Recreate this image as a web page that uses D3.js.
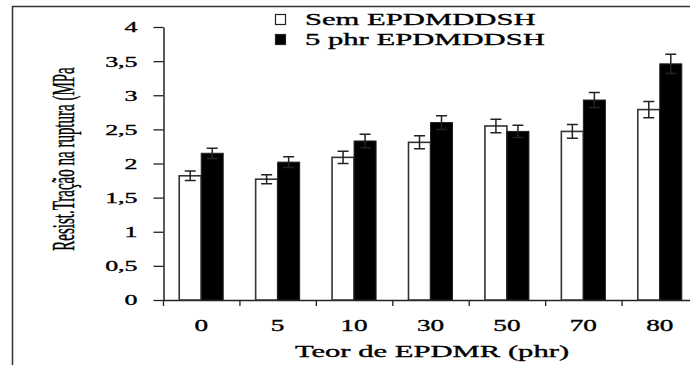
<!DOCTYPE html>
<html>
<head>
<meta charset="utf-8">
<script src="https://cdn.jsdelivr.net/npm/d3@7"></script>
<style>
  body { margin: 0; background: #fff; }
  text { font-family: "Liberation Serif", "Times New Roman", serif; fill: #000; stroke: #000; stroke-width: 0.35px; }
</style>
</head>
<body>
<svg id="chart"></svg>
<script>
var width = 690,
    height = 365;

// data
var categories = ["0", "5", "10", "30", "50", "70", "80"];
var semValues = [1.82, 1.77, 2.09, 2.31, 2.55, 2.47, 2.79];
var semErrors = [0.07, 0.065, 0.09, 0.095, 0.1, 0.1, 0.12];
var comValues = [2.15, 2.02, 2.33, 2.60, 2.47, 2.93, 3.46];
var comErrors = [0.075, 0.08, 0.1, 0.1, 0.09, 0.11, 0.14];
var seriesNames = ["Sem EPDMDDSH", "5 phr EPDMDDSH"];
var yTicks = [0, 0.5, 1, 1.5, 2, 2.5, 3, 3.5, 4];

var svg = d3.select("#chart").attr("width", width).attr("height", height);

// outer frame (only top and left visible)
svg.append("path")
  .attr("d", "M12.5,365 L12.5,6.5 L690,6.5")
  .attr("fill", "none")
  .attr("stroke", "#333")
  .attr("stroke-width", 1.5);

var x = d3.scaleBand().domain(categories).range([163, 698]);
var y = d3.scaleLinear().domain([0, 4]).range([300, 27]);
var barW = 22;

// y axis
var yAxis = svg.append("g")
  .attr("transform", "translate(163.5,0)")
  .call(d3.axisLeft(y).tickValues(yTicks).tickSize(10).tickSizeOuter(0)
    .tickFormat(function(d) { return String(d).replace(".", ","); }));
yAxis.select(".domain").attr("stroke", "#222").attr("stroke-width", 1.5);
yAxis.selectAll(".tick line").attr("stroke", "#222").attr("stroke-width", 1.3);
yAxis.selectAll(".tick text")
  .attr("x", -15)
  .attr("dy", "0.33em")
  .attr("transform", "scale(1.73,1)")
  .style("font-size", "15px");

// x axis line and boundary ticks
svg.append("line")
  .attr("x1", 163).attr("x2", 698)
  .attr("y1", 300.5).attr("y2", 300.5)
  .attr("stroke", "#222").attr("stroke-width", 1.5);
svg.selectAll(".xtick")
  .data(categories)
  .enter().append("line")
  .attr("class", "xtick")
  .attr("x1", function(d) { return x(d) + 0.5; })
  .attr("x2", function(d) { return x(d) + 0.5; })
  .attr("y1", 300).attr("y2", 306)
  .attr("stroke", "#222").attr("stroke-width", 1.3);

svg.selectAll(".xlabel")
  .data(categories)
  .enter().append("text")
  .attr("class", "xlabel")
  .attr("text-anchor", "middle")
  .attr("transform", function(d) {
    return "translate(" + (x(d) + x.bandwidth() / 2) + ",330.5) scale(1.7,1)";
  })
  .style("font-size", "16px")
  .text(function(d) { return d; });

// bars
var groups = svg.selectAll(".grp")
  .data(categories)
  .enter().append("g")
  .attr("class", "grp")
  .attr("transform", function(d) { return "translate(" + (x(d) + x.bandwidth() / 2) + ",0)"; });

groups.append("rect")
  .attr("x", -barW)
  .attr("y", function(d, i) { return y(semValues[i]); })
  .attr("width", barW)
  .attr("height", function(d, i) { return y(0) - y(semValues[i]); })
  .attr("fill", "#fff")
  .attr("stroke", "#333")
  .attr("stroke-width", 1.6);

groups.append("rect")
  .attr("x", 0)
  .attr("y", function(d, i) { return y(comValues[i]); })
  .attr("width", barW)
  .attr("height", function(d, i) { return y(0) - y(comValues[i]); })
  .attr("fill", "#000")
  .attr("stroke", "#222")
  .attr("stroke-width", 1);

// error bars
function errorBar(sel, cx, vals, errs) {
  sel.append("path")
    .attr("d", function(d, i) {
      var t = y(vals[i] + errs[i]), b = y(vals[i] - errs[i]);
      return "M" + (cx - 5.5) + "," + t + "H" + (cx + 5.5) +
             "M" + cx + "," + t + "V" + b +
             "M" + (cx - 5.5) + "," + b + "H" + (cx + 5.5);
    })
    .attr("fill", "none")
    .attr("stroke", "#222")
    .attr("stroke-width", 1.5);
}
errorBar(groups, -barW / 2, semValues, semErrors);
errorBar(groups, barW / 2, comValues, comErrors);

// legend
var legend = svg.append("g");
legend.selectAll("rect")
  .data(seriesNames)
  .enter().append("rect")
  .attr("x", 275.5)
  .attr("y", function(d, i) { return 14.5 + i * 20; })
  .attr("width", 10)
  .attr("height", 10)
  .attr("fill", function(d, i) { return i === 0 ? "#fff" : "#000"; })
  .attr("stroke", "#222")
  .attr("stroke-width", 1.2);
legend.selectAll("text")
  .data(seriesNames)
  .enter().append("text")
  .attr("transform", function(d, i) { return "translate(305," + (25 + i * 20) + ") scale(1.75,1)"; })
  .style("font-size", "17.5px")
  .text(function(d) { return d; });

// axis titles
svg.append("text")
  .attr("text-anchor", "middle")
  .attr("transform", "translate(432,356.5) scale(1.75,1)")
  .style("font-size", "17.5px")
  .text("Teor de EPDMR (phr)");

svg.append("text")
  .attr("text-anchor", "middle")
  .attr("transform", "translate(74,159) scale(2.1,1) rotate(-90)")
  .style("font-size", "15px")
  .style("stroke-width", "0.2px")
  .text("Resist.Tração na ruptura (MPa");
</script>
</body>
</html>
